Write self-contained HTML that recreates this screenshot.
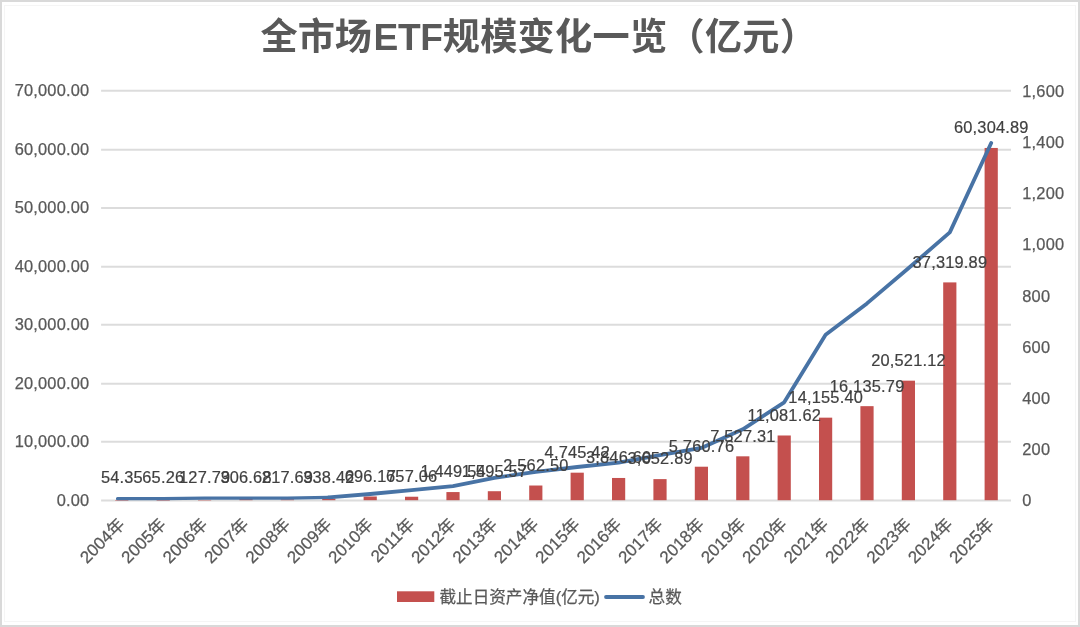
<!DOCTYPE html>
<html lang="zh-CN"><head><meta charset="utf-8"><title>全市场ETF规模变化一览（亿元）</title>
<style>
html,body{margin:0;padding:0;background:#fff;}
body{width:1080px;height:627px;overflow:hidden;}
svg{display:block;}
text{font-family:"Liberation Sans","Noto Sans CJK SC",sans-serif;}
.ax{font-size:16.4px;letter-spacing:0.2px;fill:#595959;stroke:#595959;stroke-width:0.25px;}
.lg{font-size:16.6px;fill:#595959;stroke:#595959;stroke-width:0.25px;}
.xl{font-size:17.0px;fill:#595959;stroke:#595959;stroke-width:0.25px;}
.dl{font-size:16.4px;letter-spacing:0.2px;fill:#404040;stroke:#404040;stroke-width:0.2px;text-anchor:middle;}
.ttl{font-size:37.15px;font-weight:bold;fill:#595959;}
</style></head><body>
<svg width="1080" height="627" viewBox="0 0 1080 627">
<rect x="0" y="0" width="1080" height="627" fill="#ffffff"/>
<rect x="1" y="1" width="1078" height="625" fill="none" stroke="#d9d9d9" stroke-width="2"/>
<rect x="4.5" y="5.5" width="1071" height="616" fill="none" stroke="#f5f5f5" stroke-width="1"/>
<text class="ttl" x="260.5" y="50">全市场<tspan dx="1.5" letter-spacing="-0.3">ETF</tspan><tspan letter-spacing="0.32">规模变化一览（亿元）</tspan></text>
<g stroke="#dcdcdc" stroke-width="2">
<line x1="101.1" y1="500.60" x2="1011" y2="500.60"/>
<line x1="101.1" y1="441.77" x2="1011" y2="441.77"/>
<line x1="101.1" y1="383.74" x2="1011" y2="383.74"/>
<line x1="101.1" y1="324.80" x2="1011" y2="324.80"/>
<line x1="101.1" y1="266.87" x2="1011" y2="266.87"/>
<line x1="101.1" y1="207.93" x2="1011" y2="207.93"/>
<line x1="101.1" y1="149.75" x2="1011" y2="149.75"/>
<line x1="101.1" y1="90.86" x2="1011" y2="90.86"/>
</g>
<g class="ax" text-anchor="end">
<text x="89.4" y="506.10">0.00</text>
<text x="89.4" y="447.27">10,000.00</text>
<text x="89.4" y="389.24">20,000.00</text>
<text x="89.4" y="330.30">30,000.00</text>
<text x="89.4" y="272.37">40,000.00</text>
<text x="89.4" y="213.43">50,000.00</text>
<text x="89.4" y="155.25">60,000.00</text>
<text x="89.4" y="96.36">70,000.00</text>
</g>
<g class="ax" text-anchor="start">
<text x="1022.3" y="506.40">0</text>
<text x="1022.3" y="455.18">200</text>
<text x="1022.3" y="403.97">400</text>
<text x="1022.3" y="352.75">600</text>
<text x="1022.3" y="301.53">800</text>
<text x="1022.3" y="250.31">1,000</text>
<text x="1022.3" y="199.10">1,200</text>
<text x="1022.3" y="147.88">1,400</text>
<text x="1022.3" y="96.66">1,600</text>
</g>
<g fill="#c4504e">
<rect x="115.20" y="500.28" width="13.2" height="0.50"/>
<rect x="156.60" y="500.22" width="13.2" height="0.50"/>
<rect x="198.00" y="499.85" width="13.2" height="0.50"/>
<rect x="239.40" y="498.80" width="13.2" height="1.40"/>
<rect x="280.80" y="499.32" width="13.2" height="0.88"/>
<rect x="322.20" y="498.61" width="13.2" height="1.59"/>
<rect x="363.60" y="496.50" width="13.2" height="3.70"/>
<rect x="405.00" y="496.73" width="13.2" height="3.47"/>
<rect x="446.40" y="492.07" width="13.2" height="8.13"/>
<rect x="487.80" y="491.21" width="13.2" height="8.99"/>
<rect x="529.20" y="485.52" width="13.2" height="14.68"/>
<rect x="570.60" y="472.68" width="13.2" height="27.52"/>
<rect x="612.00" y="477.97" width="13.2" height="22.23"/>
<rect x="653.40" y="479.11" width="13.2" height="21.09"/>
<rect x="694.80" y="466.71" width="13.2" height="33.49"/>
<rect x="736.20" y="456.32" width="13.2" height="43.88"/>
<rect x="777.60" y="435.49" width="13.2" height="64.71"/>
<rect x="819.00" y="417.66" width="13.2" height="82.54"/>
<rect x="860.40" y="406.16" width="13.2" height="94.04"/>
<rect x="901.80" y="380.67" width="13.2" height="119.53"/>
<rect x="943.20" y="282.40" width="13.2" height="217.80"/>
<rect x="984.60" y="147.95" width="13.2" height="352.25"/>
</g>
<polyline points="117.5,498.7 121.80,498.70 163.20,498.60 204.60,498.05 246.00,498.05 287.40,498.05 328.80,497.40" fill="none" stroke="#4873a5" stroke-width="3.2" stroke-linejoin="round" stroke-linecap="round"/>
<polyline points="328.80,497.40 370.20,494.00 411.60,490.20 453.00,486.10 494.40,477.80 535.80,471.90 577.20,467.00 618.60,462.60 660.00,455.20 701.40,447.90 742.80,429.30 784.20,402.30 825.60,334.70 867.00,303.40 908.40,268.30 949.80,232.40 991.20,143.00" fill="none" stroke="#4873a5" stroke-width="3.8" stroke-linejoin="round" stroke-linecap="round"/>
<g class="dl">
<text x="121.90" y="483.35">54.35</text>
<text x="163.30" y="483.35">65.26</text>
<text x="204.70" y="483.35">127.79</text>
<text x="246.10" y="483.35">306.68</text>
<text x="287.50" y="483.35">217.69</text>
<text x="328.90" y="483.35">338.42</text>
<text x="370.30" y="481.85">696.17</text>
<text x="411.70" y="482.08">657.06</text>
<text x="453.10" y="477.42">1,449.54</text>
<text x="494.50" y="476.56">1,595.57</text>
<text x="535.90" y="470.87">2,562.50</text>
<text x="577.30" y="458.03">4,745.42</text>
<text x="618.70" y="463.32">3,846.60</text>
<text x="660.10" y="464.46">3,652.89</text>
<text x="701.50" y="452.06">5,760.76</text>
<text x="742.90" y="441.67">7,527.31</text>
<text x="784.30" y="420.84">11,081.62</text>
<text x="825.70" y="403.01">14,155.40</text>
<text x="867.10" y="391.51">16,135.79</text>
<text x="908.50" y="366.02">20,521.12</text>
<text x="949.90" y="267.75">37,319.89</text>
<text x="991.30" y="133.30">60,304.89</text>
</g>
<g class="xl" text-anchor="end">
<text transform="translate(125.70,525.4) rotate(-45)" x="0" y="0">2004年</text>
<text transform="translate(167.10,525.4) rotate(-45)" x="0" y="0">2005年</text>
<text transform="translate(208.50,525.4) rotate(-45)" x="0" y="0">2006年</text>
<text transform="translate(249.90,525.4) rotate(-45)" x="0" y="0">2007年</text>
<text transform="translate(291.30,525.4) rotate(-45)" x="0" y="0">2008年</text>
<text transform="translate(332.70,525.4) rotate(-45)" x="0" y="0">2009年</text>
<text transform="translate(374.10,525.4) rotate(-45)" x="0" y="0">2010年</text>
<text transform="translate(415.50,525.4) rotate(-45)" x="0" y="0">2011年</text>
<text transform="translate(456.90,525.4) rotate(-45)" x="0" y="0">2012年</text>
<text transform="translate(498.30,525.4) rotate(-45)" x="0" y="0">2013年</text>
<text transform="translate(539.70,525.4) rotate(-45)" x="0" y="0">2014年</text>
<text transform="translate(581.10,525.4) rotate(-45)" x="0" y="0">2015年</text>
<text transform="translate(622.50,525.4) rotate(-45)" x="0" y="0">2016年</text>
<text transform="translate(663.90,525.4) rotate(-45)" x="0" y="0">2017年</text>
<text transform="translate(705.30,525.4) rotate(-45)" x="0" y="0">2018年</text>
<text transform="translate(746.70,525.4) rotate(-45)" x="0" y="0">2019年</text>
<text transform="translate(788.10,525.4) rotate(-45)" x="0" y="0">2020年</text>
<text transform="translate(829.50,525.4) rotate(-45)" x="0" y="0">2021年</text>
<text transform="translate(870.90,525.4) rotate(-45)" x="0" y="0">2022年</text>
<text transform="translate(912.30,525.4) rotate(-45)" x="0" y="0">2023年</text>
<text transform="translate(953.70,525.4) rotate(-45)" x="0" y="0">2024年</text>
<text transform="translate(995.10,525.4) rotate(-45)" x="0" y="0">2025年</text>
</g>
<rect x="397" y="591.3" width="37.3" height="10.7" fill="#c4504e"/>
<text class="lg" x="439.5" y="602.8">截止日资产净值(亿元)</text>
<line x1="606" y1="597" x2="643" y2="597" stroke="#4873a5" stroke-width="3.8" stroke-linecap="round"/>
<text class="lg" x="648.6" y="602.8">总数</text>
</svg>
</body></html>
